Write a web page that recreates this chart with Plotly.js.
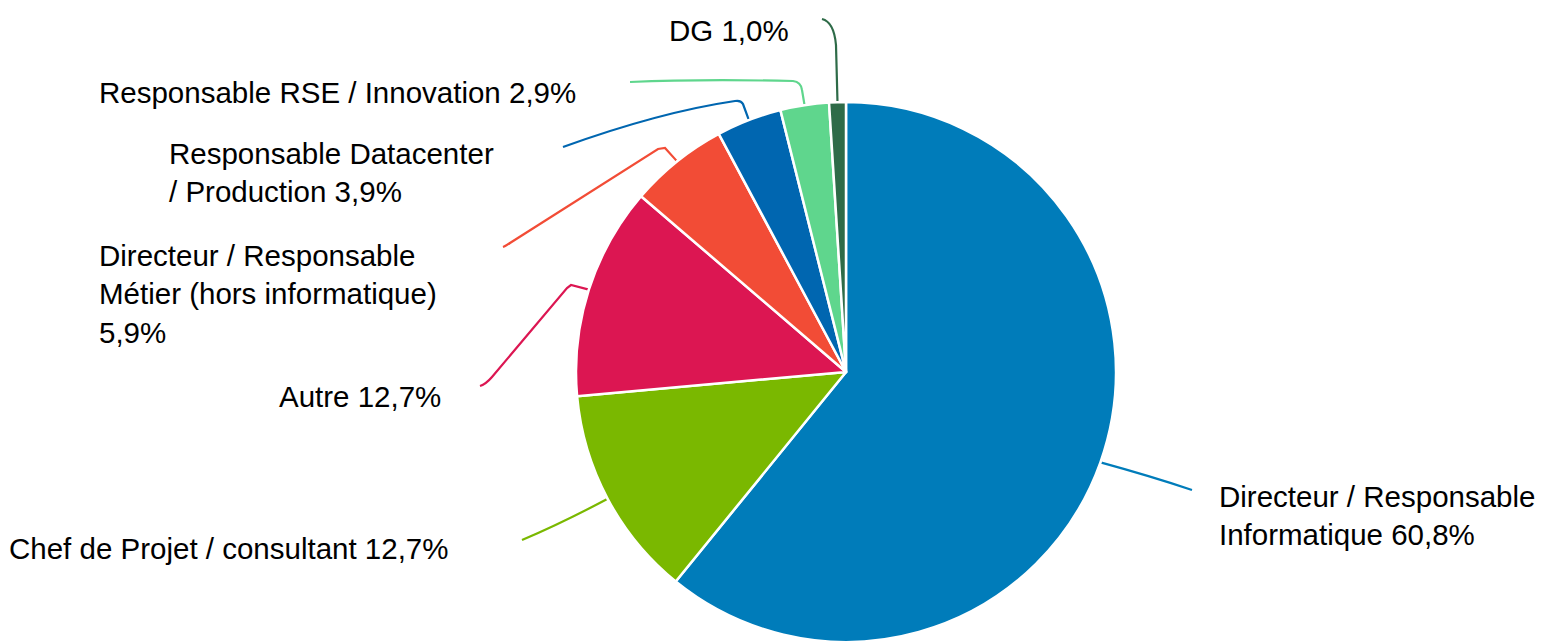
<!DOCTYPE html>
<html><head><meta charset="utf-8">
<script src="https://cdn.plot.ly/plotly-3.0.1.min.js"></script>
<style>html,body{margin:0;padding:0;background:#fff}#chart{width:1541px;height:642px}</style>
</head><body><div id="chart"></div>
<script>
const categories = [
  "Directeur / Responsable Informatique",
  "Chef de Projet / consultant",
  "Autre",
  "Directeur / Responsable Métier (hors informatique)",
  "Responsable Datacenter / Production",
  "Responsable RSE / Innovation",
  "DG"
];
const values = [60.8, 12.7, 12.7, 5.9, 3.9, 2.9, 1.0];
const valueLabels = ["60,8%", "12,7%", "12,7%", "5,9%", "3,9%", "2,9%", "1,0%"];
const colors = ["#007cba", "#7ab800", "#dc1652", "#f24c36", "#0066b0", "#5fd68d", "#2e6b48"];

// layout (pixels)
const W = 1541, H = 642;
const CX = 846, CY = 372, R = 270;
const labelText = [
  "Directeur / Responsable<br>Informatique " + valueLabels[0],
  "Chef de Projet / consultant " + valueLabels[1],
  "Autre " + valueLabels[2],
  "Directeur / Responsable<br>Métier (hors informatique)<br>" + valueLabels[3],
  "Responsable Datacenter<br>/ Production " + valueLabels[4],
  "Responsable RSE / Innovation " + valueLabels[5],
  "DG " + valueLabels[6]
];
const labelPos = [[1217, 515], [7, 548], [277, 396], [97, 294], [167, 172], [97, 92], [667, 30]];
// leader path continuation after start point (pixels): commands
const leaderRest = [
  "Q 1150 476 1192 490",
  "Q 560 524 522 540",
  "L 571 285 L 567 288 L 492 377 Q 486 384 480 386",
  "L 665 148 L 658 149 L 510 243 Q 506 246 503 247",
  "L 743 104 Q 741 100 735 101 Q 660 112 563 147",
  "L 802 90 Q 801 82 793 81 Q 700 79 630 82",
  "L 836 45 Q 834 22 822 19"
];

const px = x => x / W, py = y => 1 - y / H;
const total = values.reduce((a, b) => a + b, 0);
let cum = 0;
const shapes = [], annotations = [];
values.forEach((v, i) => {
  const mid = (cum + v / 2) / total * 2 * Math.PI;
  cum += v;
  const sx = CX + (R + 1) * Math.sin(mid), sy = CY - (R + 1) * Math.cos(mid);
  const tokens = ("M " + sx + " " + sy + " " + leaderRest[i]).split(/\s+/);
  let out = [], isX = true;
  tokens.forEach(t => {
    if (/^[A-Za-z]$/.test(t)) { out.push(t); isX = true; }
    else { const n = parseFloat(t); out.push(isX ? px(n).toFixed(5) : py(n).toFixed(5)); isX = !isX; }
  });
  shapes.push({type: "path", xref: "paper", yref: "paper", path: out.join(" "),
    line: {color: colors[i], width: 2.2}, layer: "below"});
  annotations.push({xref: "paper", yref: "paper", x: px(labelPos[i][0]), y: py(labelPos[i][1]),
    xanchor: "left", yanchor: "middle", align: "left", showarrow: false,
    text: labelText[i], font: {family: "Liberation Sans, Arial, sans-serif", size: 29.5, color: "#000"}});
});

const data = [{
  type: "pie", labels: categories, values: values, sort: false, direction: "clockwise",
  rotation: 0, textinfo: "none", hoverinfo: "none",
  marker: {colors: colors, line: {color: "#ffffff", width: 2.5}},
  domain: {x: [px(CX - R), px(CX + R)], y: [py(CY + R), py(CY - R)]},
  showlegend: false
}];
const layout = {width: W, height: H, margin: {l: 0, r: 0, t: 0, b: 0},
  paper_bgcolor: "#fff", shapes: shapes, annotations: annotations, showlegend: false};
Plotly.newPlot("chart", data, layout, {displayModeBar: false, staticPlot: true});
</script></body></html>
